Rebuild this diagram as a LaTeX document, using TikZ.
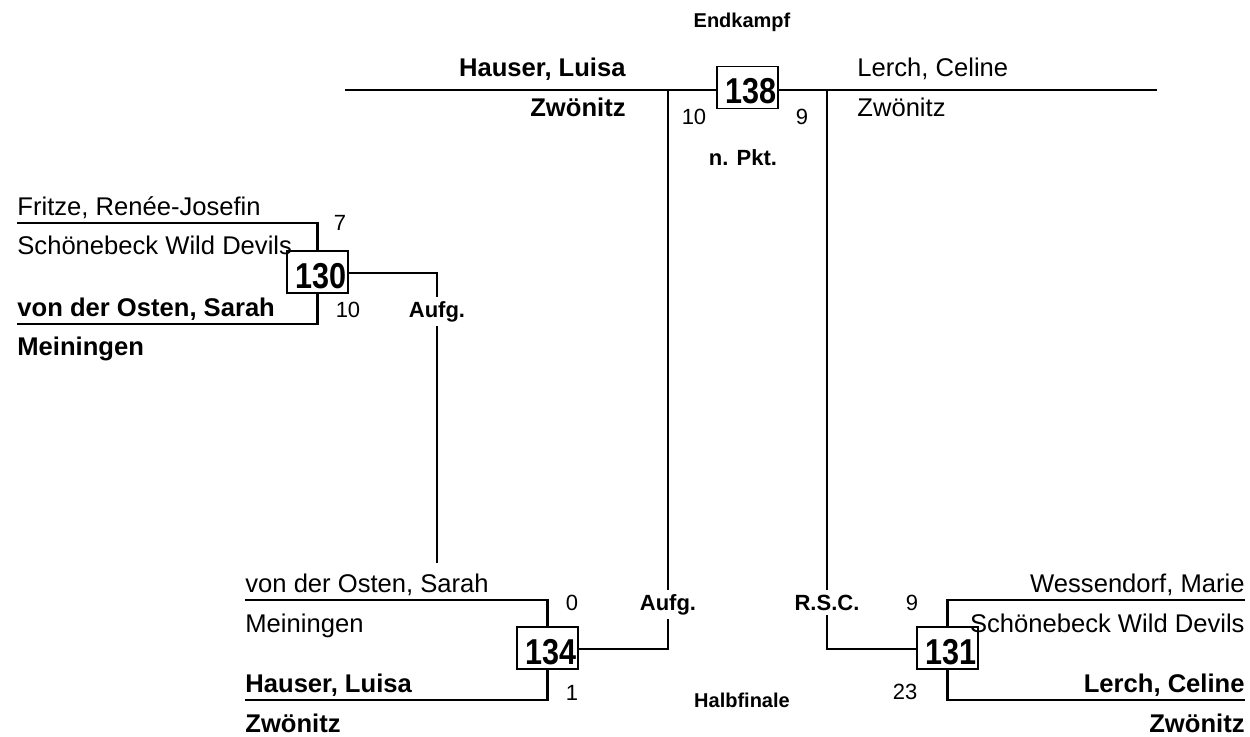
\documentclass[tikz,border=0pt]{standalone}
\usepackage{fontspec}
\setmainfont{Liberation Sans}
\newfontfamily\schmal[FakeStretch=0.85]{Liberation Sans}
\begin{document}
\begin{tikzpicture}[
    x=0.5pt, y=-0.5pt,
    % Name oder Verein: kein Rand, normale Schrift
    spieler/.style={inner sep=0pt, font=\fontsize{12.8}{14}\selectfont},
    % Sieger: fett
    sieger/.style={inner sep=0pt, font=\fontsize{12.8}{14}\selectfont\bfseries},
    % Kampfnummer im Kasten
    kampf/.style={draw, line width=0.7pt, fill=white, inner xsep=0.6pt, inner ysep=0.1pt,
        text width=29.2pt, align=right, text height=18.6pt, text depth=2.2pt,
        font=\schmal\fontsize{18}{19}\selectfont\bfseries},
    % Punkte
    punkte/.style={inner sep=0pt, font=\fontsize{11}{12}\selectfont},
    % Art des Sieges
    art/.style={inner sep=2pt, font=\fontsize{11}{12}\selectfont\bfseries},
    % Runde
    runde/.style={inner sep=0pt, font=\fontsize{10}{11}\selectfont\bfseries},
    % Linien der Tabelle
    linie/.style={line width=1.2pt}
]
    \useasboundingbox (0,0) rectangle (1250,736);

    % --- Endkampf ---
    \node[runde, anchor=base] (endk) at (742,27) {Endkampf};
    \node[kampf] (b138) at (747.5,87.5) {138};
    \node[sieger, anchor=base east] (fHauser) at (626,76) {Hauser, Luisa};
    \node[sieger, anchor=base east] (fHauserV) at (626,116) {Zwönitz};
    \node[spieler, anchor=base west] (fLerch) at (857,76) {Lerch, Celine};
    \node[spieler, anchor=base west] (fLerchV) at (857,116) {Zwönitz};
    \node[punkte, anchor=base] (p138a) at (694,124) {10};
    \node[punkte, anchor=base] (p138b) at (802,124) {9};
    \node[art, anchor=base] (npkt) at (743,165) {n. Pkt.};
    \coordinate (top1) at (345,90);
    \coordinate (top2) at (1157,90);
    \draw[linie] (top1) -- (b138.west |- top1);
    \draw[linie] (b138.east |- top2) -- (top2);

    % --- Kampf 130 ---
    \node[kampf] (b130) at (317.5,272) {130};
    \node[spieler, anchor=base west] (fritze) at (17,215) {Fritze, Renée-Josefin};
    \node[spieler, anchor=base west] (fritzeV) at (17,254) {Schönebeck Wild Devils};
    \node[sieger, anchor=base west] (osten) at (17,316) {von der Osten, Sarah};
    \node[sieger, anchor=base west] (ostenV) at (17,355) {Meiningen};
    \node[punkte, anchor=base] (p130a) at (340,230) {7};
    \node[punkte, anchor=base] (p130b) at (348,317) {10};
    \node[art, anchor=base] (aufgA) at (437,317) {Aufg.};
    \coordinate (l130a) at (17,223);
    \coordinate (l130b) at (17,324);
    \coordinate (k130) at (437,273);
    \coordinate (e130) at (437,563);
    \draw[linie] (l130a) -- (l130a -| b130) -- (b130.north);
    \draw[linie] (l130b) -- (l130b -| b130) -- (b130.south);
    \draw[linie] (b130.east |- k130) -- (k130) -- (aufgA.north);
    \draw[linie] (aufgA.south) -- (e130);

    % --- Kampf 134 ---
    \node[kampf] (b134) at (547.5,648) {134};
    \node[spieler, anchor=base west] (osten2) at (245,592) {von der Osten, Sarah};
    \node[spieler, anchor=base west] (osten2V) at (245,632) {Meiningen};
    \node[sieger, anchor=base west] (hauser) at (245,692) {Hauser, Luisa};
    \node[sieger, anchor=base west] (hauserV) at (245,732) {Zwönitz};
    \node[punkte, anchor=base] (p134a) at (572,610) {0};
    \node[punkte, anchor=base] (p134b) at (572,700) {1};
    \node[art, anchor=base] (aufgB) at (668,610) {Aufg.};
    \coordinate (l134a) at (245,600);
    \coordinate (l134b) at (245,700);
    \coordinate (k134) at (668,649);
    \draw[linie] (l134a) -- (l134a -| b134) -- (b134.north);
    \draw[linie] (l134b) -- (l134b -| b134) -- (b134.south);
    \draw[linie] (b134.east |- k134) -- (k134) -- (aufgB.south);
    \draw[linie] (aufgB.north) -- (aufgB.north |- top1);

    % --- Kampf 131 ---
    \node[kampf] (b131) at (947.5,648) {131};
    \node[spieler, anchor=base east] (wessen) at (1245,592) {Wessendorf, Marie};
    \node[spieler, anchor=base east] (wessenV) at (1245,632) {Schönebeck Wild Devils};
    \node[sieger, anchor=base east] (lerch) at (1245,692) {Lerch, Celine};
    \node[sieger, anchor=base east] (lerchV) at (1245,732) {Zwönitz};
    \node[punkte, anchor=base] (p131a) at (912,610) {9};
    \node[punkte, anchor=base] (p131b) at (905,699) {23};
    \node[art, anchor=base] (rsc) at (827,610) {R.S.C.};
    \coordinate (l131a) at (1245,600);
    \coordinate (l131b) at (1245,700);
    \coordinate (k131) at (827,649);
    \draw[linie] (l131a) -- (l131a -| b131) -- (b131.north);
    \draw[linie] (l131b) -- (l131b -| b131) -- (b131.south);
    \draw[linie] (b131.west |- k131) -- (k131) -- (rsc.south);
    \draw[linie] (rsc.north) -- (rsc.north |- top2);

    % --- Halbfinale ---
    \node[runde, anchor=base] (halbf) at (742,707) {Halbfinale};

\end{tikzpicture}
\end{document}
